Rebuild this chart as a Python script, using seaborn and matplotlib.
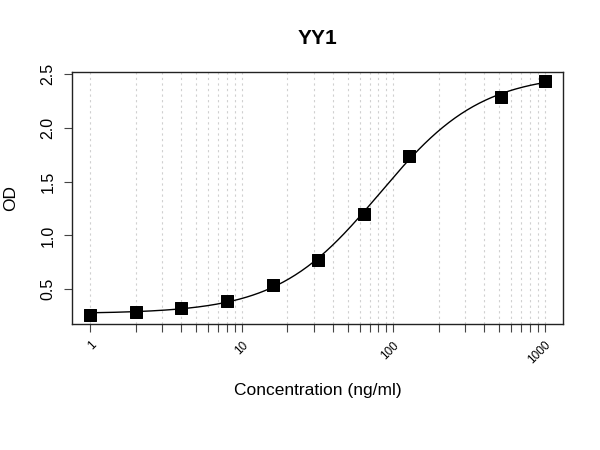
import numpy as np
import pandas as pd
import matplotlib
matplotlib.use("Agg")
import matplotlib.pyplot as plt
import seaborn as sns

# standard curve points
conc = [1, 2, 4, 8, 16, 32, 64, 128, 512, 1000]
od = [0.262, 0.284, 0.327, 0.389, 0.537, 0.771, 1.201, 1.741, 2.293, 2.435]
major_ticks = [1, 10, 100, 1000]
tick_labels = ["1", "10", "100", "1000"]

df = pd.DataFrame({"conc": conc, "od": od})


def fit_4pl(x, y):
    # grid over ec50 / hill, bottom & top by linear least squares
    x = np.asarray(x, float)
    y = np.asarray(y, float)
    best = None
    for lc in np.linspace(0, 3.5, 351):
        for b in np.linspace(0.3, 3.0, 271):
            g = 1.0 / (1.0 + (x / 10**lc) ** b)
            A = np.column_stack([g, 1 - g])
            coef, *_ = np.linalg.lstsq(A, y, rcond=None)
            sse = np.sum((A @ coef - y) ** 2)
            if best is None or sse < best[0]:
                best = (sse, coef[0], coef[1], 10**lc, b)
    return best[1:]


a, d, c, b = fit_4pl(conc, od)
xs = np.logspace(0, 3, 300)
curve = pd.DataFrame({"conc": xs, "od": d + (a - d) / (1 + (xs / c) ** b)})

sns.set_style("white")
plt.rcParams["font.family"] = ["Liberation Sans", "DejaVu Sans"]
plt.rcParams["text.color"] = "black"
plt.rcParams["axes.labelcolor"] = "black"
plt.rcParams["xtick.color"] = "black"
plt.rcParams["ytick.color"] = "black"

fig = plt.figure(figsize=(6, 4.5), dpi=100)
ax = fig.add_axes([0.12, 0.28, 0.818, 0.56])

minor = [m * 10**e for e in range(3) for m in range(1, 10)] + [1000]
for v in minor:
    ax.axvline(v, color="#d0d0d0", lw=0.8, ls=(0, (2, 3)), zorder=0)

sns.lineplot(data=curve, x="conc", y="od", color="black", lw=1, ax=ax)
sns.scatterplot(data=df, x="conc", y="od", marker="s", s=80, color="black",
                edgecolor="black", ax=ax, zorder=3)

ax.set_xscale("log")
lo, hi = np.log10(min(conc)), np.log10(max(conc))
pad = (hi - lo) * 0.04
ax.set_xlim(10 ** (lo - pad), 10 ** (hi + pad))
ypad = (max(od) - min(od)) * 0.04
ax.set_ylim(min(od) - ypad, max(od) + ypad)

ax.set_xticks(minor)
ax.set_xticklabels([tick_labels[major_ticks.index(v)] if v in major_ticks else "" for v in minor],
                   rotation=45, ha="right", rotation_mode="anchor", fontsize=8.5)
ax.xaxis.set_minor_locator(matplotlib.ticker.NullLocator())
ax.set_yticks([0.5, 1.0, 1.5, 2.0, 2.5])
ax.set_yticklabels(["0.5", "1.0", "1.5", "2.0", "2.5"], rotation=90, va="center", fontsize=11.5)
ax.tick_params(axis="both", direction="out", length=6, width=0.8, color="#444444", left=True, bottom=True)
ax.tick_params(axis="x", pad=5)
ax.tick_params(axis="y", pad=6)

for s in ax.spines.values():
    s.set_color("#222222")
    s.set_linewidth(1)

ax.set_xlabel("Concentration (ng/ml)", fontsize=12.5, labelpad=12)
ax.set_ylabel("OD", fontsize=12.5, labelpad=16)
ax.set_title("YY1", fontsize=15, fontweight="bold", pad=20)

fig.savefig("out.png", dpi=100)
